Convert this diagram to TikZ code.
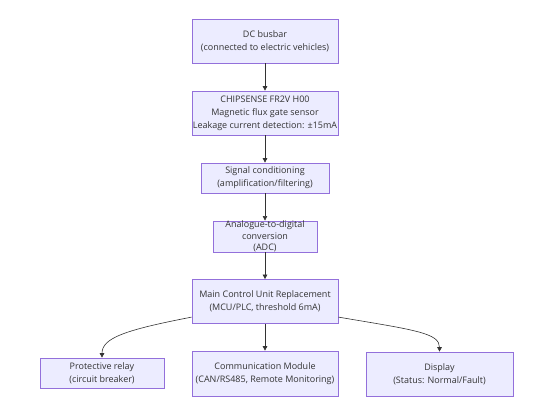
\documentclass[tikz,border=0pt]{standalone}
\usepackage{fontspec}
\setmainfont{Open Sans}
\usetikzlibrary{arrows.meta}
\definecolor{boxfill}{HTML}{ECECFF}
\definecolor{boxline}{HTML}{9370DB}
\definecolor{txt}{HTML}{333333}
\definecolor{edge}{HTML}{333333}
\tikzset{
  box/.style={draw=boxline, fill=boxfill, line width=0.7pt, inner sep=0pt,
    align=center, text=txt, font=\fontsize{9}{13}\selectfont},
  conn/.style={draw=edge, line width=0.6pt, -{Triangle[length=4.5pt,width=4.5pt]}}
}
\begin{document}
\begin{tikzpicture}[x=1pt,y=-1pt]
\useasboundingbox (0,0) rectangle (553,416);
\node[box, minimum width=146pt, minimum height=44pt] (dc) at (265,41)
  {DC busbar\\(connected to electric vehicles)};
\node[box, minimum width=146pt, minimum height=44pt] (chip) at (265,113)
  {CHIPSENSE FR2V H00\\Magnetic flux gate sensor\\Leakage current detection: ±15mA};
\node[box, minimum width=128pt, minimum height=30pt] (sig) at (265,178)
  {Signal conditioning\\(amplification/filtering)};
\node[box, minimum width=104pt, minimum height=31pt, font=\fontsize{9}{11.5}\selectfont] (adc) at (265,236.5)
  {Analogue-to-digital\\conversion\\(ADC)};
\node[box, minimum width=146pt, minimum height=44pt] (main) at (265,301.5)
  {Main Control Unit Replacement\\(MCU/PLC, threshold 6mA)};
\node[box, minimum width=124pt, minimum height=30pt] (relay) at (102,373)
  {Protective relay\\(circuit breaker)};
\node[box, minimum width=146pt, minimum height=45pt] (comm) at (265,373.5)
  {Communication Module\\(CAN/RS485, Remote Monitoring)};
\node[box, minimum width=147pt, minimum height=44pt] (disp) at (439.5,374)
  {Display\\(Status: Normal/Fault)};
\draw[conn] (dc) -- (chip);
\draw[conn] (chip) -- (sig);
\draw[conn] (sig) -- (adc);
\draw[conn] (adc) -- (main);
\draw[conn] (main) -- (comm);
\draw[conn] (main.192) .. controls (125,330) and (102,338) .. (relay.north);
\draw[conn] (main.-12) .. controls (415,330) and (439.5,333) .. (disp.north);
\end{tikzpicture}
\end{document}
